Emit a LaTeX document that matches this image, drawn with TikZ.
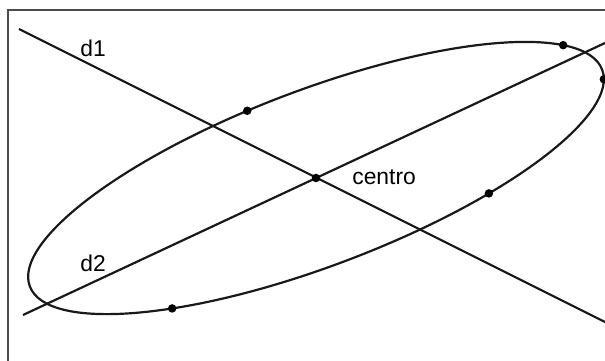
\documentclass[tikz,border=0pt]{standalone}
\usepackage{fontspec}
\setmainfont{Liberation Sans}
\begin{document}
\begin{tikzpicture}[
    curva/.style={line width=1.25pt, black!90},
    marco/.style={line width=0.6pt, black!70},
    punto/.style={circle, fill=black, inner sep=0pt, minimum size=0.17cm},
    etiqueta/.style={font=\fontsize{13}{15}\selectfont, inner sep=0pt, anchor=base west}
]
    \useasboundingbox (0,0) rectangle (12.1,7.22);
    \draw[marco] (0.16,0) |- (12.1,7.02);

    \coordinate (O) at (6.32,3.66);
    \coordinate (d1a) at (0.38,6.64);
    \coordinate (d1b) at (12.1,0.78);
    \coordinate (d2a) at (0.46,0.92);
    \coordinate (d2b) at (12.1,6.36);

    \draw[curva, rotate around={20.75:(O)}] (O) ellipse [x radius=6.12, y radius=1.76];
    \draw[curva] (d1a) -- (d1b);
    \draw[curva] (d2a) -- (d2b);

    \node[punto] (c) at (O) {};
    \path[shift={(O)}, rotate=20.75]
        (24.6:6.12 and 1.76) node[punto] (p1) {}
        (-6.3:6.12 and 1.76) node[punto] (p2) {}
        (97.6:6.12 and 1.76) node[punto] (p3) {}
        (-59.3:6.12 and 1.76) node[punto] (p4) {}
        (233.8:6.12 and 1.76) node[punto] (p5) {};

    \node[etiqueta] (l1) at (1.6,6.08) {d1};
    \node[etiqueta] (l2) at (1.6,1.78) {d2};
    \node[etiqueta] (lc) at (7.04,3.52) {centro};
\end{tikzpicture}
\end{document}
